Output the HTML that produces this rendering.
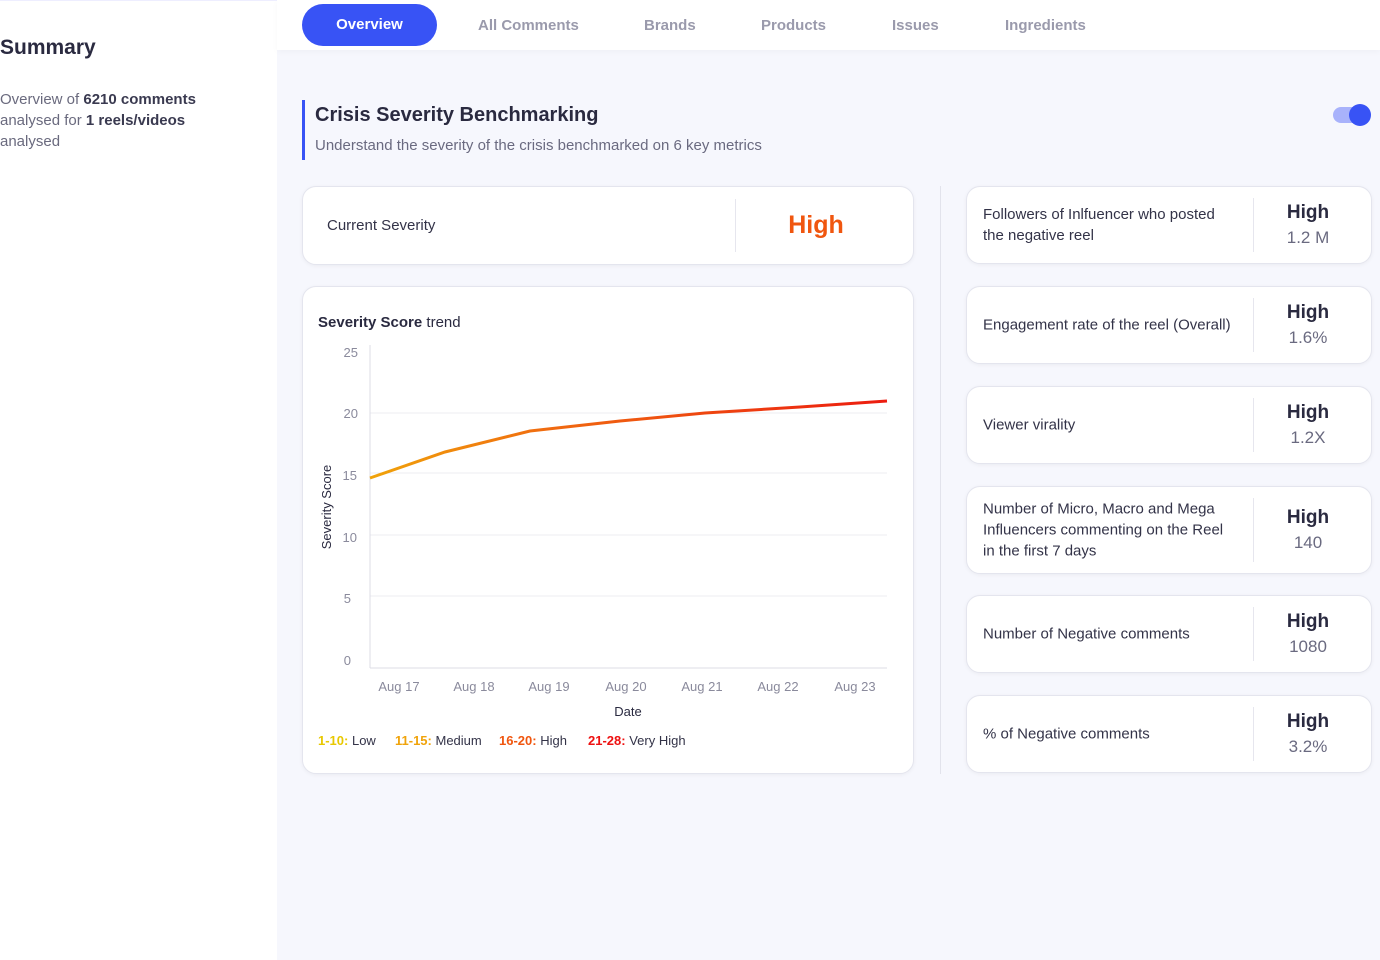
<!DOCTYPE html>
<html><head><style>
*{box-sizing:border-box;margin:0;padding:0}
body{width:1380px;height:960px;overflow:hidden;font-family:"Liberation Sans",sans-serif;background:#f6f7fd;position:relative;color:#2a2a40}
.side{position:absolute;left:0;top:0;width:277px;height:960px;background:#fff;border-top:1px solid #eef}
.nav{position:absolute;left:277px;top:0;right:0;height:50px;background:#fff;box-shadow:0 2px 6px rgba(0,0,0,.03)}
.tab{position:absolute;top:17px;font-size:15px;font-weight:bold;color:#9a9aac}
.card{position:absolute;background:#fff;border:1px solid #e4e5ee;border-radius:14px;box-shadow:0 1px 4px rgba(0,0,0,.05)}
.m{position:absolute;left:966px;width:406px;height:78px}
.m .t{position:absolute;left:16px;top:50%;transform:translateY(-50%);font-size:15px;line-height:21px;color:#333348;width:252px}
.m .d{position:absolute;left:286px;top:11px;bottom:11px;border-left:1px solid #e6e6ee}
.m .h{position:absolute;left:286px;right:8px;text-align:center;top:50%;transform:translateY(-50%)}
.m .h b{display:block;font-size:19px;color:#2a2a40}
.m .h span{display:block;font-size:17px;color:#6a6a80;margin-top:4px}
</style></head><body>
<div class="side">
<div style="position:absolute;left:0;top:35px;font-size:21px;font-weight:bold;color:#2a2a40">Summary</div>
<div style="position:absolute;left:0;top:88px;font-size:15px;line-height:21px;color:#6a6a7e;width:230px">Overview of <b style="color:#3a3a50">6210 comments</b> analysed for <b style="color:#3a3a50">1 reels/videos</b> analysed</div>
</div>
<div class="nav">
<div style="position:absolute;left:25px;top:4px;width:135px;height:42px;border-radius:21px;background:#3853f5;color:#fff;font-weight:bold;font-size:15px;text-align:center;line-height:42px">Overview</div>
<div class="tab" style="left:201px">All Comments</div>
<div class="tab" style="left:367px">Brands</div>
<div class="tab" style="left:484px">Products</div>
<div class="tab" style="left:615px">Issues</div>
<div class="tab" style="left:728px">Ingredients</div>
</div>
<div style="position:absolute;left:302px;top:100px;width:3px;height:60px;background:#3853f5"></div>
<div style="position:absolute;left:315px;top:104px;font-size:20px;font-weight:bold;color:#2a2a40">Crisis Severity Benchmarking</div>
<div style="position:absolute;left:315px;top:137px;font-size:15px;color:#6a6a80">Understand the severity of the crisis benchmarked on 6 key metrics</div>
<div style="position:absolute;left:1333px;top:107px;width:36px;height:16px;border-radius:8px;background:#a8b2fb"></div>
<div style="position:absolute;left:1349px;top:104px;width:22px;height:22px;border-radius:50%;background:#3853f5"></div>
<div class="card" style="left:302px;top:186px;width:612px;height:79px">
<div style="position:absolute;left:24px;top:30px;font-size:15px;color:#333348">Current Severity</div>
<div style="position:absolute;left:432px;top:12px;bottom:12px;border-left:1px solid #e6e6ee"></div>
<div style="position:absolute;left:432px;right:16px;top:24px;text-align:center;font-size:25px;font-weight:bold;color:#f0560f">High</div>
</div>
<div style="position:absolute;left:940px;top:186px;height:588px;border-left:1px solid #e2e3ec"></div>
<div class="card" style="left:302px;top:286px;width:612px;height:488px"></div>
<svg style="position:absolute;left:0;top:0" width="1380" height="960" font-family="Liberation Sans,sans-serif">
<defs><linearGradient id="g" x1="370" x2="887" y1="0" y2="0" gradientUnits="userSpaceOnUse"><stop offset="0" stop-color="#f0a30a"/><stop offset=".35" stop-color="#f06a10"/><stop offset="1" stop-color="#ec1c10"/></linearGradient></defs>
<text x="318" y="327" font-size="15" fill="#2a2a40"><tspan font-weight="bold">Severity Score</tspan> trend</text>
<g stroke="#ececf2" stroke-width="1"><line x1="370" x2="887" y1="413" y2="413"/><line x1="370" x2="887" y1="473" y2="473"/><line x1="370" x2="887" y1="535" y2="535"/><line x1="370" x2="887" y1="596" y2="596"/></g>
<line x1="370" x2="370" y1="345" y2="668" stroke="#dcdce6"/><line x1="370" x2="887" y1="668" y2="668" stroke="#dcdce6"/>
<g font-size="13" fill="#8a8a9c" text-anchor="end"><text x="358" y="357">25</text><text x="358" y="418">20</text><text x="357" y="480">15</text><text x="357" y="542">10</text><text x="351" y="603">5</text><text x="351" y="665">0</text></g>
<g font-size="13" fill="#8a8a9c" text-anchor="middle"><text x="399" y="691">Aug 17</text><text x="474" y="691">Aug 18</text><text x="549" y="691">Aug 19</text><text x="626" y="691">Aug 20</text><text x="702" y="691">Aug 21</text><text x="778" y="691">Aug 22</text><text x="855" y="691">Aug 23</text></g>
<text x="628" y="716" font-size="13" fill="#2a2a40" text-anchor="middle">Date</text>
<text transform="translate(331,507) rotate(-90)" font-size="13" fill="#2a2a40" text-anchor="middle">Severity Score</text>
<polyline fill="none" stroke="url(#g)" stroke-width="3" points="370,478 445,452 530,431 620,421 705,413 800,407 887,401"/>
<g font-size="13"><text x="318" y="745"><tspan fill="#e8c800" font-weight="bold">1-10:</tspan><tspan fill="#333348"> Low</tspan></text>
<text x="395" y="745"><tspan fill="#f0a30a" font-weight="bold">11-15:</tspan><tspan fill="#333348"> Medium</tspan></text>
<text x="499" y="745"><tspan fill="#f0560f" font-weight="bold">16-20:</tspan><tspan fill="#333348"> High</tspan></text>
<text x="588" y="745"><tspan fill="#ee1010" font-weight="bold">21-28:</tspan><tspan fill="#333348"> Very High</tspan></text></g>
</svg>
<div class="card m" style="top:186px"><div class="t">Followers of Inlfuencer who posted the negative reel</div><div class="d"></div><div class="h"><b>High</b><span>1.2 M</span></div></div>
<div class="card m" style="top:286px"><div class="t" style="width:270px">Engagement rate of the reel (Overall)</div><div class="d"></div><div class="h"><b>High</b><span>1.6%</span></div></div>
<div class="card m" style="top:386px"><div class="t">Viewer virality</div><div class="d"></div><div class="h"><b>High</b><span>1.2X</span></div></div>
<div class="card m" style="top:486px;height:88px"><div class="t">Number of Micro, Macro and Mega Influencers commenting on the Reel in the first 7 days</div><div class="d"></div><div class="h"><b>High</b><span>140</span></div></div>
<div class="card m" style="top:595px"><div class="t">Number of Negative comments</div><div class="d"></div><div class="h"><b>High</b><span>1080</span></div></div>
<div class="card m" style="top:695px"><div class="t">% of Negative comments</div><div class="d"></div><div class="h"><b>High</b><span>3.2%</span></div></div>
</body></html>
